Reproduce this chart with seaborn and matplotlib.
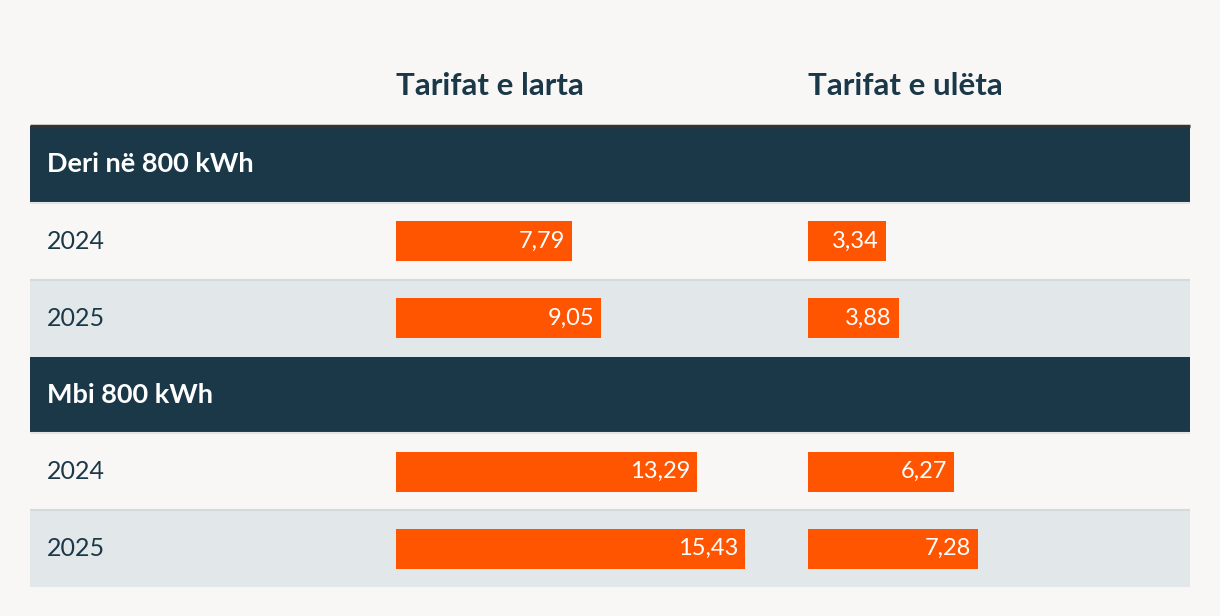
import matplotlib
matplotlib.use('Agg')
import numpy as np
import pandas as pd
import matplotlib.pyplot as plt
import seaborn as sns

# data
groups = ['Deri në 800 kWh', 'Mbi 800 kWh']
years = ['2024', '2025']
col_titles = ['Tarifat e larta', 'Tarifat e ulëta']
high_values = [7.79, 9.05, 13.29, 15.43]
low_values = [3.34, 3.88, 6.27, 7.28]

NAVY = '#1b3849'
ORANGE = '#ff5500'
GREY_ROW = '#e2e8e9'
BG = '#f8f7f5'

sns.set_theme(style='white')
plt.rcParams['font.family'] = ['Lato', 'DejaVu Sans']

# row order: header, 2024, 2025 for each group
rows = []
row_kind = []
for g in groups:
    rows.append(g)
    row_kind.append('header')
    for y in years:
        rows.append(g + ' ' + y)
        row_kind.append(y)

records = []
i = 0
for g in groups:
    for y in years:
        records.append({'row': g + ' ' + y, 'high': high_values[i], 'low': low_values[i]})
        i += 1
df = pd.DataFrame(records)

W, H = 1220, 616
fig = plt.figure(figsize=(W / 100, H / 100), dpi=100, facecolor=BG)


def px_axes(x0, y0, x1, y1):
    return fig.add_axes([x0 / W, 1 - y1 / H, (x1 - x0) / W, (y1 - y0) / H])


top, bottom = 126, 587
ax_bg = px_axes(30, top, 1190, bottom)
ax_bg.set_xlim(0, 1)
ax_bg.set_ylim(len(rows) - 0.5, -0.5)
ax_bg.axis('off')
for k, kind in enumerate(row_kind):
    if kind == 'header':
        ax_bg.axhspan(k - 0.5, k + 0.5, color=NAVY, lw=0)
        ax_bg.axhline(k + 0.5, color='#e4e4e4', lw=1.5)
        ax_bg.text(17 / 1160, k, rows[k], color='white', fontsize=19.5, fontweight='bold',
                   va='center', ha='left')
    else:
        if kind == '2025':
            ax_bg.axhspan(k - 0.5, k + 0.5, color=GREY_ROW, lw=0)
            ax_bg.axhline(k - 0.5, color='#d3dbdc', lw=1.5)
        ax_bg.text(17 / 1160, k, kind, color=NAVY, fontsize=18, va='center', ha='left')
ax_bg.axhline(-0.5, color='#333333', lw=2.5, clip_on=False, solid_capstyle='butt')

# bar columns
columns = [('high', 396, 796, 22.64, col_titles[0]), ('low', 808, 1190, 23.35, col_titles[1])]
for key, x0, x1, scale, title in columns:
    ax = px_axes(x0, top, x1, bottom)
    ax.patch.set_alpha(0)
    sns.barplot(data=df, x=key, y='row', order=rows, color=ORANGE, saturation=1,
                width=0.52, orient='h', linewidth=0, ax=ax)
    ax.set_xlim(0, (x1 - x0) / scale)
    ax.set_ylim(len(rows) - 0.5, -0.5)
    ax.axis('off')
    for _, r in df.iterrows():
        ax.annotate(f"{r[key]:.2f}".replace('.', ','), xy=(r[key], rows.index(r['row'])),
                    xytext=(-5, 0), textcoords='offset points', ha='right', va='center',
                    color='white', fontsize=17)
    fig.text(x0 / W, 1 - 86 / H, title, color=NAVY, fontsize=22.5, fontweight='bold',
             va='center', ha='left')

fig.savefig('out.png', dpi=100, facecolor=BG)
